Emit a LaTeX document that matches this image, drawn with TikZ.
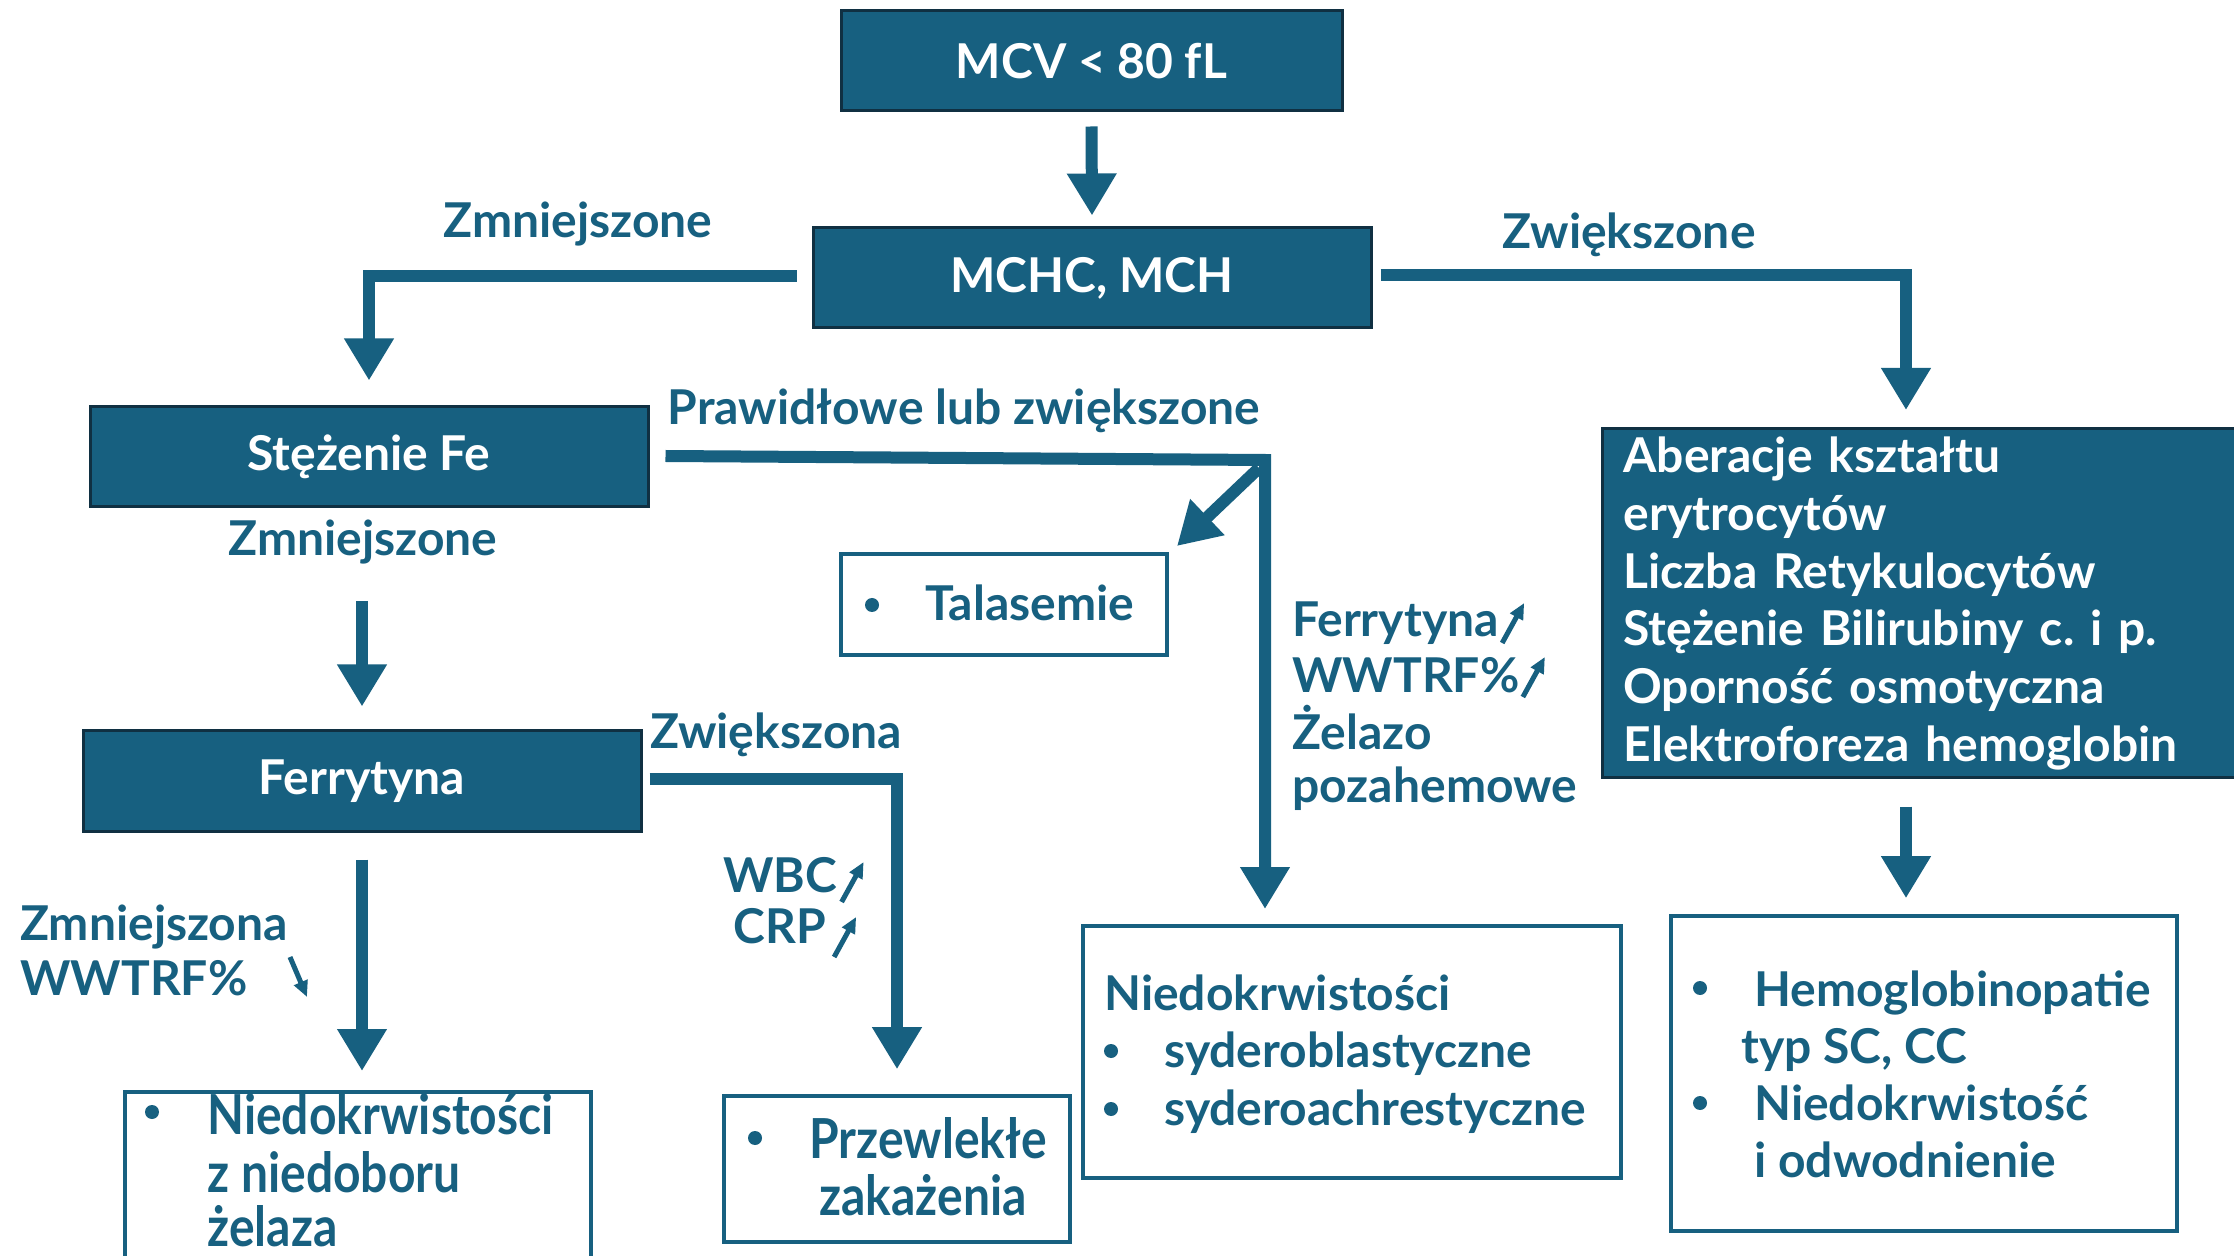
\documentclass[tikz,border=0pt]{standalone}
\usepackage{fontspec}
\setmainfont{Lato}
\usetikzlibrary{arrows.meta}
\definecolor{mblue}{RGB}{23,96,128}
\definecolor{mdark}{RGB}{16,48,66}
\newcommand{\tallt}[1]{\scalebox{1}[1.15]{#1}}
\begin{document}
\begin{tikzpicture}[x=0.5pt,y=-0.5pt,
  font=\fontsize{24}{28.9}\selectfont\bfseries\frenchspacing,
  fillbox/.style={draw=mdark, line width=1.5pt, fill=mblue, text=white, inner sep=0pt},
  outbox/.style={draw=mblue, line width=1.8pt, fill=none, inner sep=0pt},
  lbl/.style={text=mblue, inner sep=0pt},
  bul/.style={circle, fill=mblue, inner sep=0pt, minimum size=7pt},
  arr/.style={draw=mblue, line width=6pt, line join=miter, -{Triangle[length=21pt,width=23.5pt]}},
  smallarr/.style={draw=mblue, line width=2.5pt, -{Triangle[length=8pt,width=7pt]}}
]
\useasboundingbox (0,0) rectangle (2234,1256);
\fill[white] (0,0) rectangle (2234,1256);

% filled boxes
\node[fillbox, minimum width=250.5pt, minimum height=50pt] (mcv) at (1091.5,61) {MCV < 80 fL};
\node[fillbox, minimum width=279pt, minimum height=50pt] (mchc) at (1092,278) {MCHC, MCH};
\node[fillbox, minimum width=279pt, minimum height=50pt] (fe) at (369,457) {Stężenie Fe};
\node[fillbox, minimum width=279pt, minimum height=50pt] (ferr) at (362,781) {Ferrytyna};
\node[fillbox, anchor=west, minimum width=324.5pt, minimum height=174.5pt, inner xsep=10.5pt, text width=303.5pt, align=left] (ab) at (1601,603.5)
  {Aberacje kształtu\\erytrocytów\\Liczba Retykulocytów\\Stężenie Bilirubiny c. i p.\\Oporność osmotyczna\\Elektroforeza hemoglobin};

% outline boxes
\node[outbox, minimum width=163pt, minimum height=50.5pt] (tal) at (1004,604.5) {};
\node[bul] (talb) at (872,605) {};
\node[lbl, anchor=base west] (talt) at (925,621) {Talasemie};

\node[outbox, minimum width=269pt, minimum height=126pt] (syd) at (1352,1052) {};
\node[lbl, anchor=base west] (syd0) at (1104,1010) {Niedokrwistości};
\node[bul] (sydb1) at (1111,1051) {};
\node[lbl, anchor=base west] (syd1) at (1164,1067) {syderoblastyczne};
\node[bul] (sydb2) at (1111,1109) {};
\node[lbl, anchor=base west] (syd2) at (1164,1125) {syderoachrestyczne};

\node[outbox, minimum width=253pt, minimum height=157.5pt] (hemo) at (1924,1073.5) {};
\node[bul] (hemb1) at (1700,988) {};
\node[lbl, anchor=base west] (hem1) at (1754,1006) {Hemoglobinopatie};
\node[lbl, anchor=base west] (hem2) at (1741,1063) {typ SC, CC};
\node[bul] (hemb2) at (1700,1103) {};
\node[lbl, anchor=base west] (hem3) at (1754,1120) {Niedokrwistość};
\node[lbl, anchor=base west] (hem4) at (1754,1177) {i odwodnienie};

\node[outbox, anchor=north, minimum width=233pt, minimum height=100pt] (ida) at (358,1090) {};
\node[bul] (idab) at (152,1112) {};
\node[lbl, anchor=base west] (ida1) at (207,1134) {\tallt{Niedokrwistości}};
\node[lbl, anchor=base west] (ida2) at (207,1192) {\tallt{z niedoboru}};
\node[lbl, anchor=base west] (ida3) at (207,1246) {\tallt{żelaza}};

\node[outbox, minimum width=173pt, minimum height=73pt] (chr) at (897,1169) {};
\node[bul] (chrb) at (755,1138) {};
\node[lbl, anchor=base west] (chr1) at (809,1158) {\tallt{Przewlekłe}};
\node[lbl, anchor=base west] (chr2) at (819,1215) {\tallt{zakażenia}};

% labels
\node[lbl, anchor=base] (l1) at (578,238) {Zmniejszone};
\node[lbl, anchor=base] (l2) at (1629,249) {Zwiększone};
\node[lbl, anchor=base] (l3) at (964,425) {Prawidłowe lub zwiększone};
\node[lbl, anchor=base] (l4) at (363,556) {Zmniejszone};
\node[lbl, anchor=base] (l5) at (776,748) {Zwiększona};
\node[lbl, anchor=base west] (l6a) at (20,940) {Zmniejszona};
\node[lbl, anchor=base west] (l6b) at (20,995) {WWTRF\%};
\node[lbl, anchor=base west] (f1) at (1292,637) {Ferrytyna};
\node[lbl, anchor=base west] (f2) at (1292,693) {WWTRF\%};
\node[lbl, anchor=base west] (f3) at (1292,750) {Żelazo};
\node[lbl, anchor=base west] (f4) at (1292,802) {pozahemowe};
\node[lbl, anchor=base west] (wbc) at (723,892) {WBC};
\node[lbl, anchor=base west] (crp) at (733,943) {CRP};

% small arrows
\coordinate (sa1s) at (290,957); \coordinate (sa1e) at (307,997);
\draw[smallarr] (sa1s) -- (sa1e);
\draw[smallarr] ([xshift=1.5pt,yshift=-3pt]f1.base east) -- ++(22,-40);
\draw[smallarr] ([xshift=1.5pt,yshift=-2pt]f2.base east) -- ++(22,-40);
\draw[smallarr] ([xshift=2pt,yshift=-5pt]wbc.base east) -- ++(22,-40);
\draw[smallarr] ([xshift=4pt,yshift=-7pt]crp.base east) -- ++(22,-40);

% connectors
\coordinate (abtip) at (1906,410);
\coordinate (corner) at (1265,460);
\coordinate (sydtip) at (1265,909);
\coordinate (diagstart) at (1259,468);
\coordinate (taltip) at (1177,546);
\coordinate (fedown) at (362,601);

\draw[arr] ([yshift=-7pt]mcv.south) -- ([yshift=5.5pt]mchc.north);
\draw[arr] ([xshift=-7.5pt,yshift=1pt]mchc.west) -| ([yshift=12.5pt]fe.north);
\draw[arr] ([xshift=4pt,yshift=1.5pt]mchc.east) -| (abtip);
\draw[arr] ([xshift=8pt,yshift=0.5pt]fe.east) -- (corner) -- (sydtip);
\draw[arr] (diagstart) -- (taltip);
\draw[arr] (fedown) -- ([yshift=11.5pt]ferr.north);
\draw[arr] ([yshift=-13.5pt]ferr.south) -- ([yshift=9.5pt]ferr.south |- ida.north);
\draw[arr] ([xshift=3.5pt,yshift=1pt]ferr.east) -| ([yshift=12.5pt]chr.north);
\draw[arr] ([yshift=-13.5pt]abtip |- ab.south) -- ([yshift=8pt]abtip |- hemo.north);
\end{tikzpicture}
\end{document}
